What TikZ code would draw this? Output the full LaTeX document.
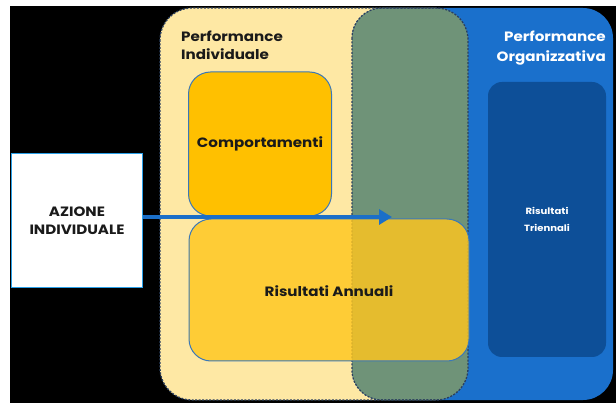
\documentclass[tikz,border=0pt]{standalone}
\usepackage{fontspec}
\setmainfont{Poppins}[FakeStretch=1.12]
\usetikzlibrary{arrows.meta}
\definecolor{paleyel}{HTML}{FEE8A4}
\definecolor{orgblue}{HTML}{1A70CC}
\definecolor{overlap}{HTML}{6F9378}
\definecolor{darkblu}{HTML}{0D4F98}
\definecolor{compor}{HTML}{FFC000}
\definecolor{annual}{HTML}{FFC61E}
\definecolor{edgeblu}{HTML}{3A78B8}
\definecolor{azblue}{HTML}{2AA0E8}
\definecolor{arrowblu}{HTML}{1B6FC8}
\definecolor{dashcol}{HTML}{2B3F5F}
\definecolor{inktext}{HTML}{1A1A1A}
\tikzset{
  px/.style={x=1pt,y=-1pt},
  dashborder/.style={draw=dashcol,line width=1.3pt,dash pattern=on 2pt off 1.5pt},
  innerbox/.style={draw=edgeblu,line width=1pt,rounded corners=22pt},
  lbl/.style={font=\bfseries,inner sep=0pt,align=center},
}
\begin{document}
\begin{tikzpicture}[px]
\useasboundingbox (0,0) rectangle (616,403);
\fill[white] (0,0) rectangle (616,403);
\fill[black] (10,6) rectangle (616,403);
% big areas
\def\yelpath{(160,8) rectangle (468,400)}
\def\blupath{(352,8) rectangle (613,400)}
\fill[paleyel,rounded corners=32pt] \yelpath;
\fill[orgblue,rounded corners=30pt] \blupath;
\begin{scope}
  \clip[rounded corners=32pt] \yelpath;
  \fill[overlap,rounded corners=30pt] \blupath;
  \draw[dashborder,rounded corners=30pt] \blupath;
\end{scope}
\draw[dashborder,rounded corners=32pt] \yelpath;
% inner boxes
\node[innerbox,fill=compor,minimum width=143pt,minimum height=144pt,inner sep=0pt] (comp) at (260,144) {};
\node[innerbox,fill=annual,fill opacity=0.82,minimum width=280pt,minimum height=142pt,inner sep=0pt] (annu) at (329,290) {};
\node[fill=darkblu,rounded corners=14pt,minimum width=118pt,minimum height=275pt,inner sep=0pt] (trien) at (547,219.5) {};
\node[draw=azblue,line width=1.6pt,fill=white,minimum width=131pt,minimum height=134pt,inner sep=0pt] (azione) at (77,220.5) {};
% arrow
\coordinate (tip) at (392,217);
\draw[arrowblu,line width=4pt,-{Triangle[length=13pt,width=15pt]}] (azione.east |- tip) -- (tip);
% texts
\node[lbl,text=inktext,font=\bfseries\fontsize{13.5}{15}\selectfont] at (comp.center) {Comportamenti};
\node[lbl,text=inktext,font=\bfseries\fontsize{13.5}{15}\selectfont] at (329,291) {Risultati Annuali};
\node[lbl,text=white,font=\bfseries\fontsize{9}{17}\selectfont] at (trien.center) {Risultati\\Triennali};
\node[lbl,text=inktext,font=\bfseries\fontsize{13.5}{18}\selectfont] at (azione.center) {AZIONE\\INDIVIDUALE};
\node[lbl,text=inktext,align=left,anchor=north west,font=\bfseries\fontsize{13.5}{18}\selectfont] at (181,31) {Performance\\Individuale};
\node[lbl,text=white,align=right,anchor=north east,font=\bfseries\fontsize{13.5}{20}\selectfont] at (606,31) {Performance\\Organizzativa};
\end{tikzpicture}
\end{document}
